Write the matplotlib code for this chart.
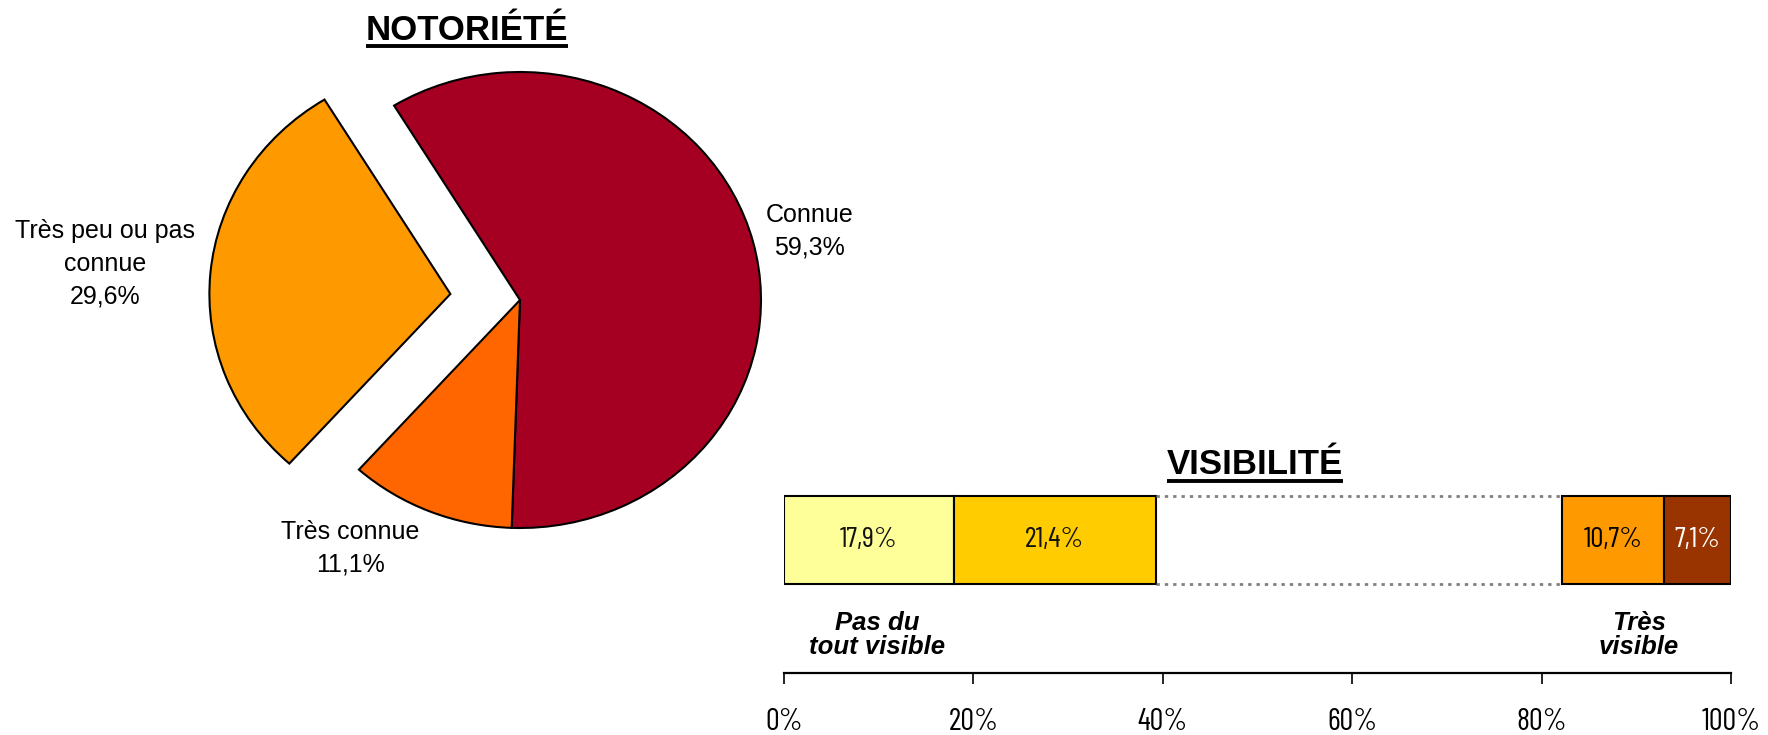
import matplotlib
matplotlib.use("Agg")
import matplotlib.pyplot as plt
from matplotlib.lines import Line2D

# === DATA ===
pie_labels = ["Connue", "Très connue", "Très peu ou pas\nconnue"]
pie_values = [59.3, 11.1, 29.6]
pie_colors = ["#A50021", "#FF6600", "#FF9900"]

vis_low = [17.9, 21.4]        # pas du tout visible side
vis_high = [10.7, 7.1]        # très visible side
vis_low_colors = ["#FFFF99", "#FFCC00"]
vis_high_colors = ["#FF9900", "#993300"]
vis_high_text = ["black", "white"]
ticks = [0, 20, 40, 60, 80, 100]

# === FONTS ===
SANS = ["Liberation Sans", "DejaVu Sans"]
NARROW = ["Barlow Condensed", "Liberation Sans Narrow", "Liberation Sans", "DejaVu Sans"]
W, H = 1768, 735


def fr(v):
    return f"{v:.1f}".replace(".", ",") + "%"


fig = plt.figure(figsize=(W / 100, H / 100), dpi=100)
fig.patch.set_facecolor("white")

# === Pie: NOTORIETE ===
# axis box in pixels: centre (520, 300), 241 px per unit in x, 228 in y
ax1 = fig.add_axes([(520 - 1.9 * 241) / W, (H - 300 - 1.25 * 228) / H,
                    2 * 1.9 * 241 / W, 2 * 1.25 * 228 / H])
ax1.pie(pie_values, colors=pie_colors, startangle=121.5, counterclock=False,
        explode=[0, 0, 0.29],
        wedgeprops=dict(edgecolor="black", linewidth=1.5))
ax1.set_aspect("auto")
ax1.set_xlim(-1.9, 1.9)
ax1.set_ylim(-1.25, 1.25)
ax1.axis("off")

label_pos = [(1.20, 0.30), (-0.705, -1.09), (-1.72, 0.16)]
for lab, val, (x, y) in zip(pie_labels, pie_values, label_pos):
    ax1.text(x, y, lab + "\n" + fr(val), ha="center", va="center",
             fontsize=18, family=SANS, linespacing=1.45, color="black")

# === Stacked bar: VISIBILITE ===
ax2 = fig.add_axes([784 / W, (H - 673) / H, 947 / W, 185.7 / H])
left = 0
for v, c in zip(vis_low, vis_low_colors):
    ax2.barh(0, v, left=left, height=1, color=c, edgecolor="black", linewidth=1.5)
    ax2.text(left + v / 2, 0, fr(v), ha="center", va="center",
             fontsize=21, family=NARROW, color="#111111")
    left += v
low_end = left

start = 100 - sum(vis_high)
left = start
for v, c, tc in zip(vis_high, vis_high_colors, vis_high_text):
    ax2.barh(0, v, left=left, height=1, color=c, edgecolor="black", linewidth=1.5)
    ax2.text(left + v / 2, 0, fr(v), ha="center", va="center",
             fontsize=21, family=NARROW, color=tc)
    left += v

# dotted frame for the missing middle part
for y in (-0.5, 0.5):
    ax2.plot([low_end, start], [y, y], linestyle=(0, (1.2, 1.8)),
             color="#808080", linewidth=2)

ax2.set_xlim(0, 100)
ax2.set_ylim(-1.51, 0.6)
for s in ("top", "right", "left"):
    ax2.spines[s].set_visible(False)
ax2.spines["bottom"].set_linewidth(1.6)
ax2.set_yticks([])
ax2.set_xticks(ticks)
ax2.set_xticklabels([f"{t}%" for t in ticks], fontsize=22, family=NARROW)
ax2.tick_params(axis="x", length=8, width=1.2, pad=17)

ax2.text(9.8, -1.08, "Pas du\ntout visible", ha="center", va="center",
         fontsize=18.5, family=SANS, weight="bold", style="italic", linespacing=1.0)
ax2.text(90.3, -1.08, "Très\nvisible", ha="center", va="center",
         fontsize=18.5, family=SANS, weight="bold", style="italic", linespacing=1.0)

# === Titles with underline ===
t1 = fig.text(467 / W, 1 - 30 / H, "NOTORIÉTÉ", ha="center", va="center",
              fontsize=25, weight="bold", family=SANS)
t2 = fig.text(1255 / W, 1 - 465 / H, "VISIBILITÉ", ha="center", va="center",
              fontsize=25, weight="bold", family=SANS)

fig.canvas.draw()
renderer = fig.canvas.get_renderer()
for t in (t1, t2):
    bb = t.get_window_extent(renderer).transformed(fig.transFigure.inverted())
    y = bb.y0 + 1.0 / H
    fig.add_artist(Line2D([bb.x0, bb.x1], [y, y], transform=fig.transFigure,
                          color="black", linewidth=2.8, solid_capstyle="butt"))

fig.savefig("out.png", dpi=100, facecolor="white")
